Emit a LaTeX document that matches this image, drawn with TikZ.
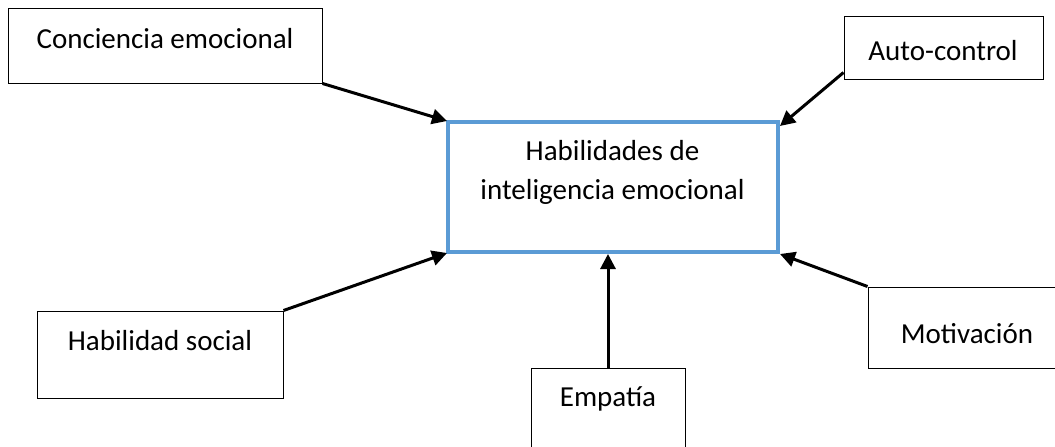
\documentclass[tikz,border=0pt]{standalone}
\usepackage{fontspec}
\setmainfont{Carlito}
\usetikzlibrary{arrows.meta,calc}
\definecolor{boxblue}{HTML}{5B9BD5}
\tikzset{
  box/.style={draw=black, line width=1pt, inner sep=0pt, fill=white},
  mainbox/.style={draw=boxblue, line width=4pt, inner sep=0pt, fill=white},
  lbl/.style={inner sep=0pt, font=\fontsize{29}{39}\selectfont, align=center},
  arr/.style={line width=3pt, -{Triangle[length=15pt,width=15pt]}}
}
\begin{document}
\begin{tikzpicture}[x=1pt,y=-1pt]
\useasboundingbox (0,0) rectangle (1055,447);
\begin{scope}
\clip (0,0) rectangle (1055,447);
% boxes
\node[mainbox, minimum width=330pt, minimum height=130pt] (hab) at (613,187) {};
\node[box, minimum width=314pt, minimum height=75pt] (ce) at (165,45.5) {};
\node[box, minimum width=199pt, minimum height=63pt] (au) at (943.5,47.5) {};
\node[box, minimum width=246pt, minimum height=87pt] (hs) at (160,354.5) {};
\node[box, minimum width=154pt, minimum height=100pt] (em) at (608,418) {};
\node[box, minimum width=198pt, minimum height=81pt] (mo) at (967,327.5) {};
% labels
\node[lbl] (habt) at (612.5,172.5) {Habilidades de\\inteligencia emocional};
\node[lbl] (cet) at (165,39) {Conciencia emocional};
\node[lbl] (aut) at (943,51) {Auto-control};
\node[lbl] (hst) at (160,341) {Habilidad social};
\node[lbl] (emt) at (608,399) {Empatía};
\node[lbl] (mot) at (967,334) {Motivación};
% arrows
\draw[arr] (ce.south east) -- ($(hab.north west)+(1,1)$);
\draw[arr] ($(au.south west)+(0,-7)$) -- ($(hab.north east)+(0,6)$);
\draw[arr] (hs.north east) -- ($(hab.south west)+(1,-1)$);
\draw[arr] (em.north) -- (em.north |- hab.south);
\draw[arr] (mo.north west) -- ($(hab.south east)+(0,0)$);
\end{scope}
\end{tikzpicture}
\end{document}
